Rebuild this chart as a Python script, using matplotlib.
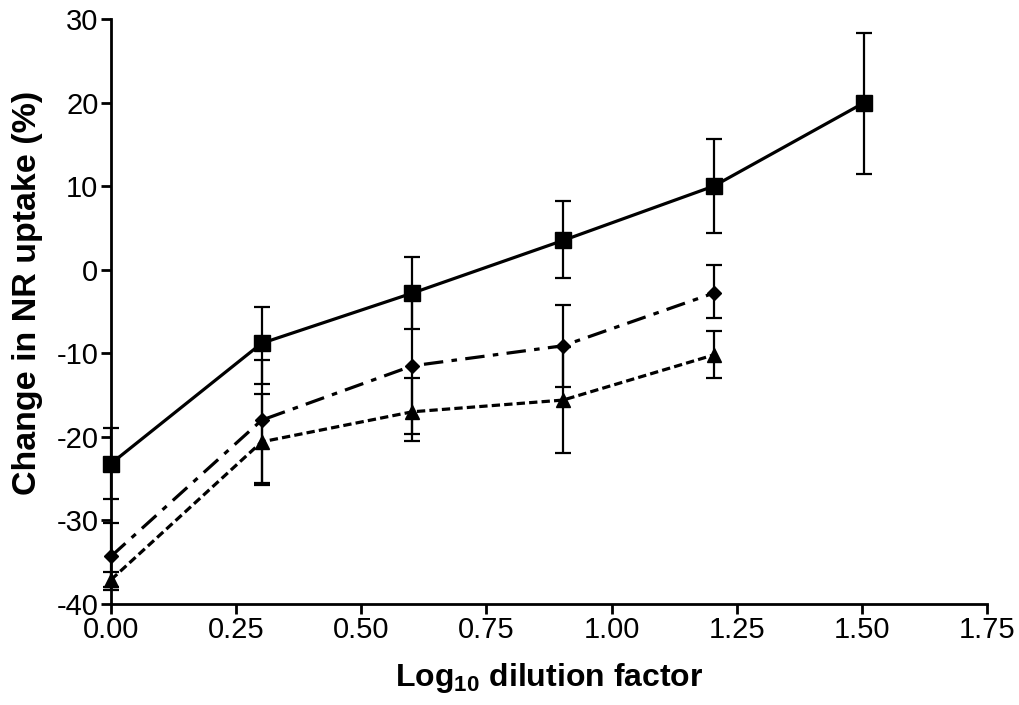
import matplotlib
matplotlib.use("Agg")
import matplotlib.pyplot as plt

plt.rcParams['font.family'] = ['Liberation Sans', 'DejaVu Sans']
plt.rcParams['axes.unicode_minus'] = False
plt.rcParams['lines.scale_dashes'] = False
plt.rcParams['mathtext.fontset'] = 'custom'
plt.rcParams['mathtext.rm'] = 'Liberation Sans'
plt.rcParams['mathtext.bf'] = 'Liberation Sans:bold'

# Data
log_dilution = [0.0, 0.301, 0.602, 0.903, 1.204, 1.505]

square_vals = [-23.2, -8.8, -2.8, 3.5, 10.0, 20.0]
square_err_lo = [4.2, 4.9, 4.3, 4.5, 5.6, 8.5]
square_err_hi = [4.3, 4.3, 4.3, 4.7, 5.6, 8.3]

diamond_vals = [-34.3, -18.0, -11.5, -9.1, -2.8]
diamond_err_lo = [4.0, 7.5, 8.2, 4.9, 3.0]
diamond_err_hi = [4.0, 7.2, 8.2, 4.9, 3.4]

triangle_vals = [-37.1, -20.6, -17.0, -15.6, -10.2]
triangle_err_lo = [0.9, 5.2, 3.5, 6.3, 2.8]
triangle_err_hi = [0.9, 5.7, 4.1, 6.3, 2.9]

x_ticks = [0.0, 0.25, 0.5, 0.75, 1.0, 1.25, 1.5, 1.75]
x_ticklabels = ['0.00', '0.25', '0.50', '0.75', '1.00', '1.25', '1.50', '1.75']
y_ticks = [-40, -30, -20, -10, 0, 10, 20, 30]

fig = plt.figure(figsize=(10.2, 7.05), dpi=100)
ax = fig.add_axes([111/1020, 1 - 604/705, (987 - 111)/1020, (604 - 19)/705])

common = dict(color='black', ecolor='black', elinewidth=1.6, capsize=6, capthick=1.6,
              linewidth=2.3, clip_on=False)

ax.errorbar(log_dilution[:5], triangle_vals, yerr=[triangle_err_lo, triangle_err_hi],
            marker='^', markersize=10, linestyle=(0, (6, 3)), zorder=3, **common)
ax.errorbar(log_dilution[:5], diamond_vals, yerr=[diamond_err_lo, diamond_err_hi],
            marker='D', markersize=7.5, linestyle=(0, (14, 6, 4, 6)), zorder=4, **common)
ax.errorbar(log_dilution, square_vals, yerr=[square_err_lo, square_err_hi],
            marker='s', markersize=11, linestyle='-', zorder=5, **common)

ax.set_xlim(0, 1.75)
ax.set_ylim(-40, 30)
ax.set_xticks(x_ticks)
ax.set_xticklabels(x_ticklabels)
ax.set_yticks(y_ticks)

for s in ['top', 'right']:
    ax.spines[s].set_visible(False)
for s in ['left', 'bottom']:
    ax.spines[s].set_linewidth(2.0)

ax.tick_params(axis='both', direction='out', length=7, width=2.0, labelsize=21, pad=2)

ax.set_ylabel('Change in NR uptake (%)', fontsize=24.5, fontweight='bold')
ax.yaxis.set_label_coords(-0.078, 0.532)
ax.set_xlabel(r'Log$_{\mathbf{10}}$ dilution factor', fontsize=23, fontweight='bold', labelpad=12)

fig.savefig('out.png', dpi=100)
